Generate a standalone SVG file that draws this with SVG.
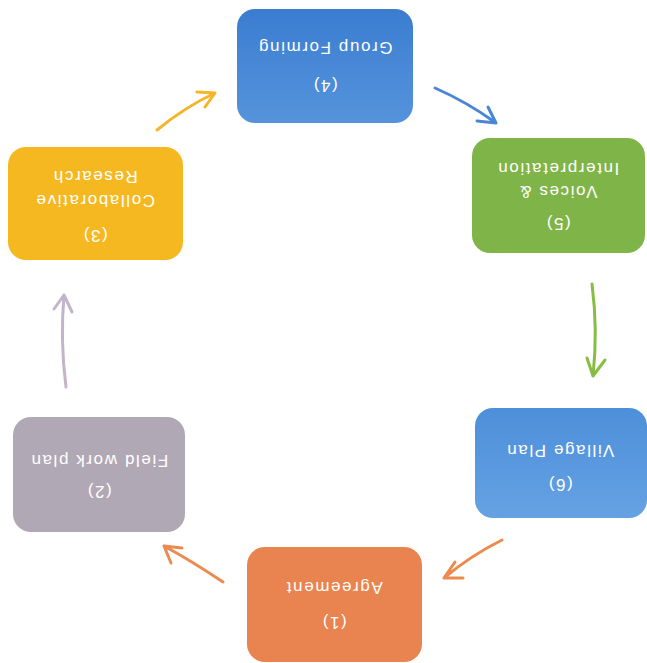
<svg xmlns="http://www.w3.org/2000/svg" width="647" height="663" viewBox="0 0 647 663">
<style>
.lbl{font-family:"Liberation Sans","Noto Sans",Arial,sans-serif;font-size:17px;fill:#ffffff;text-anchor:middle;dominant-baseline:central;letter-spacing:1.6px}
.arr{fill:none;stroke-width:3;stroke-linecap:round;stroke-linejoin:round}
</style>
<defs>
<linearGradient id="gBlue" x1="0" y1="0" x2="0" y2="1"><stop offset="0" stop-color="#3a7dd0"/><stop offset="1" stop-color="#5693dc"/></linearGradient>
<linearGradient id="gBlue2" x1="0" y1="0" x2="0" y2="1"><stop offset="0" stop-color="#4d8fda"/><stop offset="1" stop-color="#66a2e3"/></linearGradient>
</defs>
<rect width="647" height="663" fill="#ffffff"/>
<g id="connectors">
<path class="arr" stroke="#4a86d6" d="M435 88 Q467 102 496 123 M477 121 L496 123 L488 107"/>
<path class="arr" stroke="#88bd45" d="M592 284 Q598 330 593 376 M587 358 L593 376 L605 360"/>
<path class="arr" stroke="#ec8a4f" d="M502 540 Q470 556 444 578 M455 562 L444 578 L463 578"/>
<path class="arr" stroke="#ec8a4f" d="M223 582 Q190 560 164 546 M182 548 L164 546 L171 563"/>
<path class="arr" stroke="#c3b3cc" d="M66 387 Q60 340 64 295 M54 309 L64 295 L72 312"/>
<path class="arr" stroke="#f5b52a" d="M157 130 Q185 107 215 93 M197 92 L215 93 L205 107"/>
</g>
<g id="node4">
<rect x="237" y="9" width="176" height="114" rx="18" fill="url(#gBlue)"/>
<g transform="rotate(180 325 66)"><text class="lbl" x="325" y="47">(4)</text><text class="lbl" x="325" y="85">Group Forming</text></g>
</g>
<g id="node5">
<rect x="472" y="138" width="173" height="115" rx="18" fill="#7fb548"/>
<g transform="rotate(180 558 195)"><text class="lbl" x="558" y="167">(5)</text><text class="lbl" x="558" y="199">Voices &amp;</text><text class="lbl" x="558" y="222">Interpretation</text></g>
</g>
<g id="node6">
<rect x="475" y="408" width="172" height="110" rx="18" fill="url(#gBlue2)"/>
<g transform="rotate(180 560 467)"><text class="lbl" x="560" y="450">(6)</text><text class="lbl" x="560" y="484">Village Plan</text></g>
</g>
<g id="node1">
<rect x="247" y="547" width="175" height="115" rx="18" fill="#e9834f"/>
<g transform="rotate(180 334 604)"><text class="lbl" x="334" y="586">(1)</text><text class="lbl" x="334" y="621">Agreement</text></g>
</g>
<g id="node2">
<rect x="13" y="417" width="172" height="115" rx="18" fill="#b1a8b5"/>
<g transform="rotate(180 99 475)"><text class="lbl" x="99" y="459">(2)</text><text class="lbl" x="99" y="490">Field work plan</text></g>
</g>
<g id="node3">
<rect x="8" y="147" width="175" height="113" rx="18" fill="#f6b820"/>
<g transform="rotate(180 95 205)"><text class="lbl" x="95" y="175">(3)</text><text class="lbl" x="95" y="210">Collaborative</text><text class="lbl" x="95" y="234">Research</text></g>
</g>
</svg>
